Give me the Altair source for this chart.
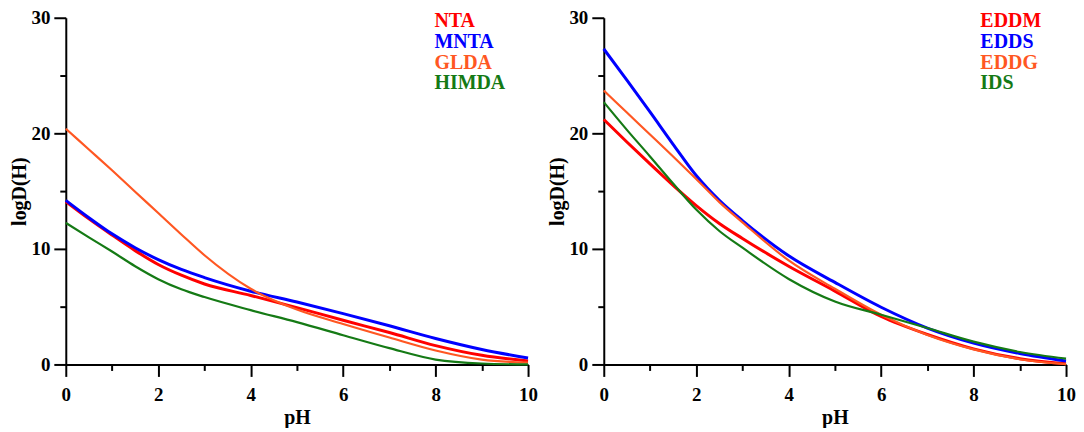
import altair as alt
import pandas as pd

PH = [0, 0.5, 1, 1.5, 2, 2.5, 3, 4, 5, 6, 7, 8, 9, 10]

# Left panel
NTA   = [14.1, 12.6, 11.2, 9.85, 8.65, 7.72, 6.96, 5.97, 4.92, 3.82, 2.76, 1.63, 0.79, 0.3]
MNTA  = [14.2, 12.7, 11.3, 10.1, 9.07, 8.22, 7.52, 6.34, 5.4, 4.4, 3.35, 2.25, 1.3, 0.55]
GLDA  = [20.4, 18.6, 16.8, 14.95, 13.1, 11.25, 9.45, 6.55, 4.75, 3.5, 2.33, 1.21, 0.42, 0.15]
HIMDA = [12.25, 11.0, 9.77, 8.5, 7.38, 6.5, 5.83, 4.7, 3.66, 2.53, 1.41, 0.42, 0.08, 0.0]

# Right panel
EDDM = [21.2, 19.25, 17.35, 15.5, 13.75, 12.2, 10.9, 8.5, 6.35, 4.15, 2.6, 1.35, 0.5, 0.06]
EDDS = [27.3, 24.6, 21.85, 19.05, 16.35, 14.2, 12.45, 9.4, 7.1, 4.95, 3.15, 1.85, 0.95, 0.3]
EDDG = [23.7, 21.8, 19.9, 18.0, 16.05, 14.05, 12.3, 9.0, 6.55, 4.3, 2.55, 1.3, 0.45, 0.03]
IDS  = [22.7, 20.3, 18.0, 15.65, 13.4, 11.55, 10.1, 7.4, 5.45, 4.3, 3.15, 1.97, 1.08, 0.5]

LEFT_NAMES = ["NTA", "MNTA", "GLDA", "HIMDA"]
RIGHT_NAMES = ["EDDM", "EDDS", "EDDG", "IDS"]
COLORS = ["#FF0000", "#0000FF", "#FF5722", "#157A15"]

FONT = "Liberation Serif"
PLOT_W = 464
PLOT_H = 348


def long_df(names, series):
    rows = []
    for n, vals in zip(names, series):
        for p, v in zip(PH, vals):
            rows.append({"series": n, "pH": p, "logD": v})
    return pd.DataFrame(rows)


x_axis = alt.Axis(
    values=list(range(0, 11)),
    labelExpr="datum.value % 2 === 0 ? datum.label : ''",
    tickSize={"condition": {"test": "datum.value % 2 === 0", "value": 12}, "value": 6},
    title="pH",
    labelPadding=9,
    titlePadding=3,
)
y_axis = alt.Axis(
    values=list(range(0, 31, 5)),
    labelExpr="datum.value % 10 === 0 ? datum.label : ''",
    tickSize={"condition": {"test": "datum.value % 10 === 0", "value": 12}, "value": 6},
    title="logD(H)",
    labelPadding=4,
    titlePadding=1,
)


def panel(names, series, legend_x):
    df = long_df(names, series)
    cscale = alt.Scale(domain=names, range=COLORS)
    thick = names[:2]
    lines = alt.Chart(df).mark_line(interpolate="monotone").encode(
        x=alt.X("pH:Q", scale=alt.Scale(domain=[0, 10], nice=False), axis=x_axis),
        y=alt.Y("logD:Q", scale=alt.Scale(domain=[0, 30], nice=False), axis=y_axis),
        color=alt.Color("series:N", scale=cscale, legend=None),
        strokeWidth=alt.when(alt.FieldOneOfPredicate(field="series", oneOf=thick))
        .then(alt.value(3))
        .otherwise(alt.value(2.2)),
    )
    leg_df = pd.DataFrame({"series": names, "idx": list(range(len(names)))})
    legend = alt.Chart(leg_df).transform_calculate(
        ypos="datum.idx * 21 + 9"
    ).mark_text(
        align="left", baseline="alphabetic", font=FONT, fontWeight="bold", fontSize=20
    ).encode(
        x=alt.value(legend_x),
        y=alt.Y("ypos:Q", scale=None),
        text="series:N",
        color=alt.Color("series:N", scale=cscale, legend=None),
    )
    return alt.layer(lines, legend).properties(width=PLOT_W, height=PLOT_H)


left = panel(LEFT_NAMES, [NTA, MNTA, GLDA, HIMDA], 370)
right = panel(RIGHT_NAMES, [EDDM, EDDS, EDDG, IDS], 378)

chart = alt.hconcat(left, right, spacing=10).properties(
    padding={"left": 2, "top": 0, "right": 0, "bottom": 0}
).configure_view(stroke=None).configure_axis(
    grid=False,
    domainColor="black",
    domainWidth=2,
    tickColor="black",
    tickWidth=2,
    labelFont=FONT,
    labelFontWeight="bold",
    labelFontSize=19,
    labelColor="black",
    titleFont=FONT,
    titleFontWeight="bold",
    titleFontSize=20,
    titleColor="black",
).configure_axisX(labelFlush=False, labelOverlap=False).configure_axisY(labelOverlap=False)

chart.save("out.html", embed_options={"renderer": "svg", "actions": False})
